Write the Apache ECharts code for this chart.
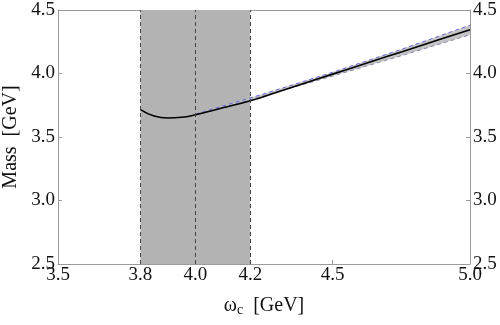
<!DOCTYPE html>
<html>
<head>
<meta charset="utf-8">
<script src="https://cdn.jsdelivr.net/npm/echarts@6/dist/echarts.min.js"></script>
<style>
  html, body { margin: 0; padding: 0; background: #fff; }
  #chart { width: 500px; height: 325px; }
</style>
</head>
<body>
<div id="chart"></div>
<script>
// 中心曲线 (omega_c, mass)
const omega = [3.8, 3.85, 3.9, 3.95, 4.0, 4.1, 4.2, 4.3, 4.4, 4.5, 4.6, 4.7, 4.8, 4.9, 5.0]
const mass = [3.715, 3.665, 3.65, 3.655, 3.675, 3.73, 3.785, 3.855, 3.925, 3.995, 4.065, 4.135, 4.205, 4.275, 4.345]

// 误差带 (4.0 - 5.0)
const bandX = [4.0, 4.25, 4.5, 4.75, 5.0]
const bandUpper = [3.68, 3.84, 4.01, 4.19, 4.38]
const bandLower = [3.67, 3.825, 3.98, 4.14, 4.305]

// 阴影区间和虚线
const windowRange = [3.8, 4.2]
const dashedX = [3.8, 4.0, 4.2]

const xTicks = [3.5, 3.8, 4.0, 4.2, 4.5, 5.0]

const FONT = 'Liberation Serif'
const AXIS_COLOR = '#9a9a9a'
const LABEL_SIZE = 19
const NAME_SIZE = 20

const chart = echarts.init(document.getElementById('chart'))

const pairs = (xs, ys) => xs.map((x, i) => [x, ys[i]])

function yAxisOf(position, showName) {
  return {
    type: 'value',
    position,
    min: 2.5,
    max: 4.5,
    interval: 0.5,
    name: showName ? 'Mass  [GeV]' : '',
    nameLocation: 'middle',
    nameRotate: 90,
    nameGap: 37,
    nameTextStyle: { fontFamily: FONT, fontSize: NAME_SIZE, color: '#111' },
    axisLine: { show: true, lineStyle: { color: AXIS_COLOR } },
    axisTick: { show: true, inside: true, length: 4, lineStyle: { color: AXIS_COLOR } },
    axisLabel: {
      fontFamily: FONT, fontSize: LABEL_SIZE, color: '#111', margin: 3,
      formatter: v => v.toFixed(1)
    },
    splitLine: { show: false }
  }
}

// 误差带多边形：上边界正向 + 下边界反向
const bandPolygon = bandX.map((x, i) => [x, bandUpper[i]])
  .concat(bandX.map((x, i) => [x, bandLower[i]]).reverse())

chart.setOption({
  animation: false,
  grid: { left: 58, right: 30, top: 10, bottom: 61, outerBoundsMode: 'none', containLabel: false },
  xAxis: [{
    type: 'value',
    min: 3.5,
    max: 5.0,
    interval: 0.1,
    name: 'ω{sub|c}  [GeV]',
    nameLocation: 'middle',
    nameGap: 30,
    nameTextStyle: {
      fontFamily: FONT, fontSize: NAME_SIZE, color: '#111',
      rich: { sub: { fontFamily: FONT, fontSize: 14, verticalAlign: 'bottom', padding: [9, 0, 0, 0] } }
    },
    axisLine: { show: true, onZero: false, lineStyle: { color: AXIS_COLOR } },
    axisTick: { show: true, inside: true, length: 4, customValues: xTicks, lineStyle: { color: AXIS_COLOR } },
    axisLabel: {
      fontFamily: FONT, fontSize: LABEL_SIZE, color: '#111', margin: 2,
      customValues: xTicks,
      formatter: v => v.toFixed(1)
    },
    splitLine: { show: false }
  }, {
    type: 'value',
    position: 'top',
    min: 3.5,
    max: 5.0,
    axisLine: { show: true, lineStyle: { color: AXIS_COLOR } },
    axisTick: { show: false },
    axisLabel: { show: false },
    splitLine: { show: false }
  }],
  yAxis: [yAxisOf('left', true), yAxisOf('right', false)],
  series: [
    {
      // 阴影窗口 + 虚线
      type: 'line',
      data: [],
      markArea: {
        silent: true,
        itemStyle: { color: '#b3b3b3' },
        data: [[{ xAxis: windowRange[0] }, { xAxis: windowRange[1] }]]
      },
      markLine: {
        silent: true,
        symbol: 'none',
        label: { show: false },
        lineStyle: { color: '#444', type: [4, 3], width: 1 },
        data: dashedX.map(x => ({ xAxis: x }))
      }
    },
    {
      type: 'custom',
      data: [0],
      silent: true,
      z: 2,
      renderItem: (params, api) => ({
        type: 'polygon',
        shape: { points: bandPolygon.map(p => api.coord(p)) },
        style: { fill: '#c4c4c4' }
      })
    },
    {
      type: 'line',
      data: pairs(bandX, bandUpper),
      symbol: 'none',
      lineStyle: { color: '#6a6ae0', width: 1, type: [4, 3] },
      z: 3
    },
    {
      type: 'line',
      data: pairs(bandX, bandLower),
      symbol: 'none',
      lineStyle: { color: '#8a8aa8', width: 1, type: [4, 3] },
      z: 3
    },
    {
      type: 'line',
      data: pairs(omega, mass),
      symbol: 'none',
      smooth: true,
      lineStyle: { color: '#000', width: 1.6 },
      z: 4
    }
  ]
})
</script>
</body>
</html>
